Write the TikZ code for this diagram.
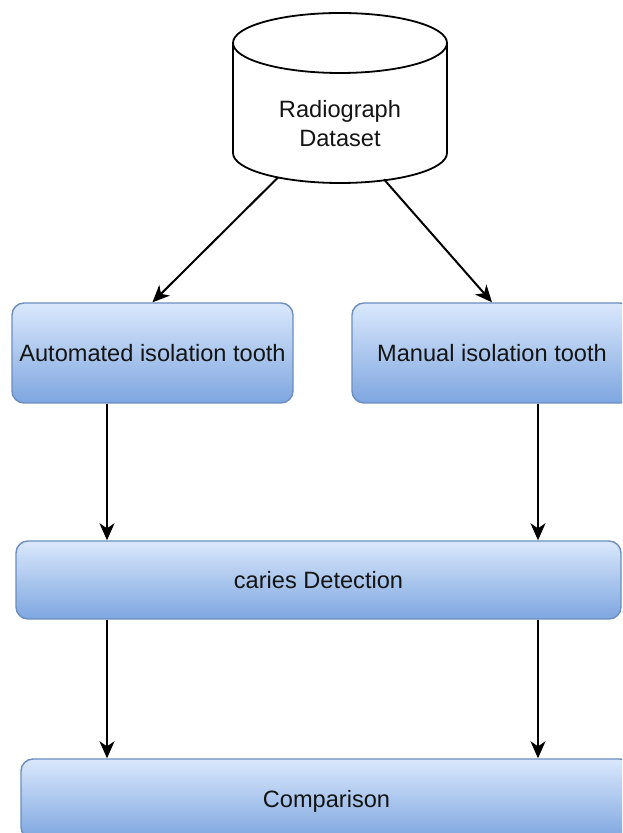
\documentclass[tikz,border=0pt]{standalone}
\usepackage{fontspec}
\setmainfont{Liberation Sans}
\usetikzlibrary{arrows.meta}
\definecolor{boxtop}{RGB}{218,232,252}
\definecolor{boxbot}{RGB}{126,166,224}
\definecolor{boxline}{RGB}{108,142,191}
\definecolor{txt}{RGB}{20,20,20}
\begin{document}
\begin{tikzpicture}[x=1pt,y=1pt,
  every node/.style={font=\fontsize{23.6pt}{29pt}\selectfont, text=txt},
  procbox/.style={draw=boxline, line width=1.4pt, rounded corners=12pt,
    top color=boxtop, bottom color=boxbot, inner sep=0pt,
    text height=16.9pt, text depth=0pt},
  arr/.style={draw=black, line width=2pt,
    -{Stealth[length=17pt,width=15pt,inset=5pt]}}]
\fill[white] (0,0) rectangle (622,833);
\clip (0,0) rectangle (622,833);
% cylinder
\draw[black, line width=1.8pt, fill=white]
  (233,790) -- (233,680)
  arc[start angle=180, end angle=360, x radius=107, y radius=30]
  -- (447,790)
  arc[start angle=0, end angle=180, x radius=107, y radius=30] -- cycle;
\draw[black, line width=1.8pt]
  (233,790) arc[start angle=180, end angle=360, x radius=107, y radius=30];
\node[align=center, inner sep=0pt] (db) at (340,709) {Radiograph\\Dataset};
\coordinate (dbl) at (278,655.5);
\coordinate (dbr) at (384,653.6);
% boxes
\node[procbox, minimum width=281pt, minimum height=100pt] (auto) at (152.5,480) {Automated isolation tooth};
\node[procbox, minimum width=280pt, minimum height=100pt] (manual) at (492,480) {Manual isolation tooth};
\node[procbox, minimum width=605pt, minimum height=78pt] (caries) at (318.5,253) {caries Detection};
\node[procbox, minimum width=611pt, minimum height=80pt] (comp) at (326.5,34) {Comparison};
% connectors
\coordinate (xl) at (107,0);
\coordinate (xr) at (538,0);
\draw[arr] (dbl) -- (auto.north);
\draw[arr] (dbr) -- (manual.north);
\draw[arr] (auto.south -| xl) -- (caries.north -| xl);
\draw[arr] (manual.south -| xr) -- (caries.north -| xr);
\draw[arr] (caries.south -| xl) -- (comp.north -| xl);
\draw[arr] (caries.south -| xr) -- (comp.north -| xr);
\end{tikzpicture}
\end{document}
